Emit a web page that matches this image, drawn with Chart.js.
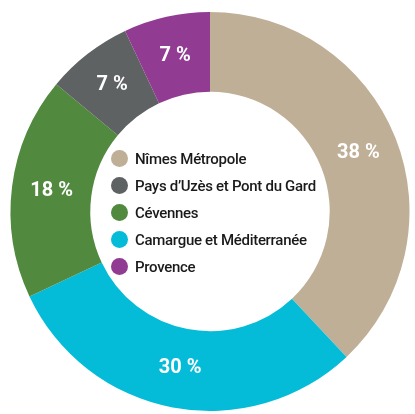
<!DOCTYPE html>
<html lang="fr">
<head>
<meta charset="UTF-8">
<title>Répartition</title>
<script src="https://cdn.jsdelivr.net/npm/chart.js"></script>
<style>
    body {
        margin: 0;
        background: #fff;
        font-family: 'Roboto', sans-serif;
    }
    #wrap {
        position: relative;
        width: 415px;
        height: 414px;
    }
    #legend {
        position: absolute;
        left: 111px;
        top: 145px;
        list-style: none;
        margin: 0;
        padding: 0;
    }
    #legend li {
        display: flex;
        align-items: center;
        height: 27px;
        font-size: 15px;
        font-weight: 500;
        color: #1a1a1a;
        letter-spacing: -0.3px;
    }
    #legend span.dot {
        width: 17px;
        height: 17px;
        border-radius: 50%;
        margin-right: 7px;
        flex: none;
    }
</style>
</head>
<body>
<div id="wrap">
    <canvas id="pie" width="415" height="414"></canvas>
    <ul id="legend"></ul>
</div>
<script>
    // segments dans l'ordre du graphique (sens horaire depuis midi)
    const categories = ['Nîmes Métropole', 'Camargue et Méditerranée', 'Cévennes', "Pays d’Uzès et Pont du Gard", 'Provence'];
    const values = [38, 30, 18, 7, 7];
    const colors = ['#c0af97', '#05bcd8', '#518a3f', '#5e6263', '#913b93'];
    // ordre de la légende
    const legendOrder = [0, 3, 2, 1, 4];

    // étiquettes en pourcentage sur les segments
    const pctLabels = {
        id: 'pctLabels',
        afterDatasetsDraw(chart) {
            const ctx = chart.ctx;
            const meta = chart.getDatasetMeta(0);
            ctx.save();
            ctx.fillStyle = '#fff';
            ctx.font = 'bold 20px Roboto, sans-serif';
            ctx.textAlign = 'center';
            ctx.textBaseline = 'middle';
            meta.data.forEach((arc, i) => {
                const mid = (arc.startAngle + arc.endAngle) / 2;
                const r = arc.innerRadius + (arc.outerRadius - arc.innerRadius) * 0.5;
                ctx.fillText(values[i] + ' %', arc.x + Math.cos(mid) * r, arc.y + Math.sin(mid) * r);
            });
            ctx.restore();
        }
    };

    new Chart(document.getElementById('pie'), {
        type: 'doughnut',
        data: {
            labels: categories,
            datasets: [{
                data: values,
                backgroundColor: colors,
                borderWidth: 0
            }]
        },
        options: {
            responsive: false,
            animation: false,
            cutout: '60%',
            layout: { padding: { left: 10, right: 5, top: 12, bottom: 3 } },
            plugins: {
                legend: { display: false },
                tooltip: { enabled: false }
            }
        },
        plugins: [pctLabels]
    });

    // légende au centre
    const legend = document.getElementById('legend');
    legendOrder.forEach(i => {
        const li = document.createElement('li');
        li.innerHTML = '<span class="dot" style="background:' + colors[i] + '"></span>' + categories[i];
        legend.appendChild(li);
    });
</script>
</body>
</html>
